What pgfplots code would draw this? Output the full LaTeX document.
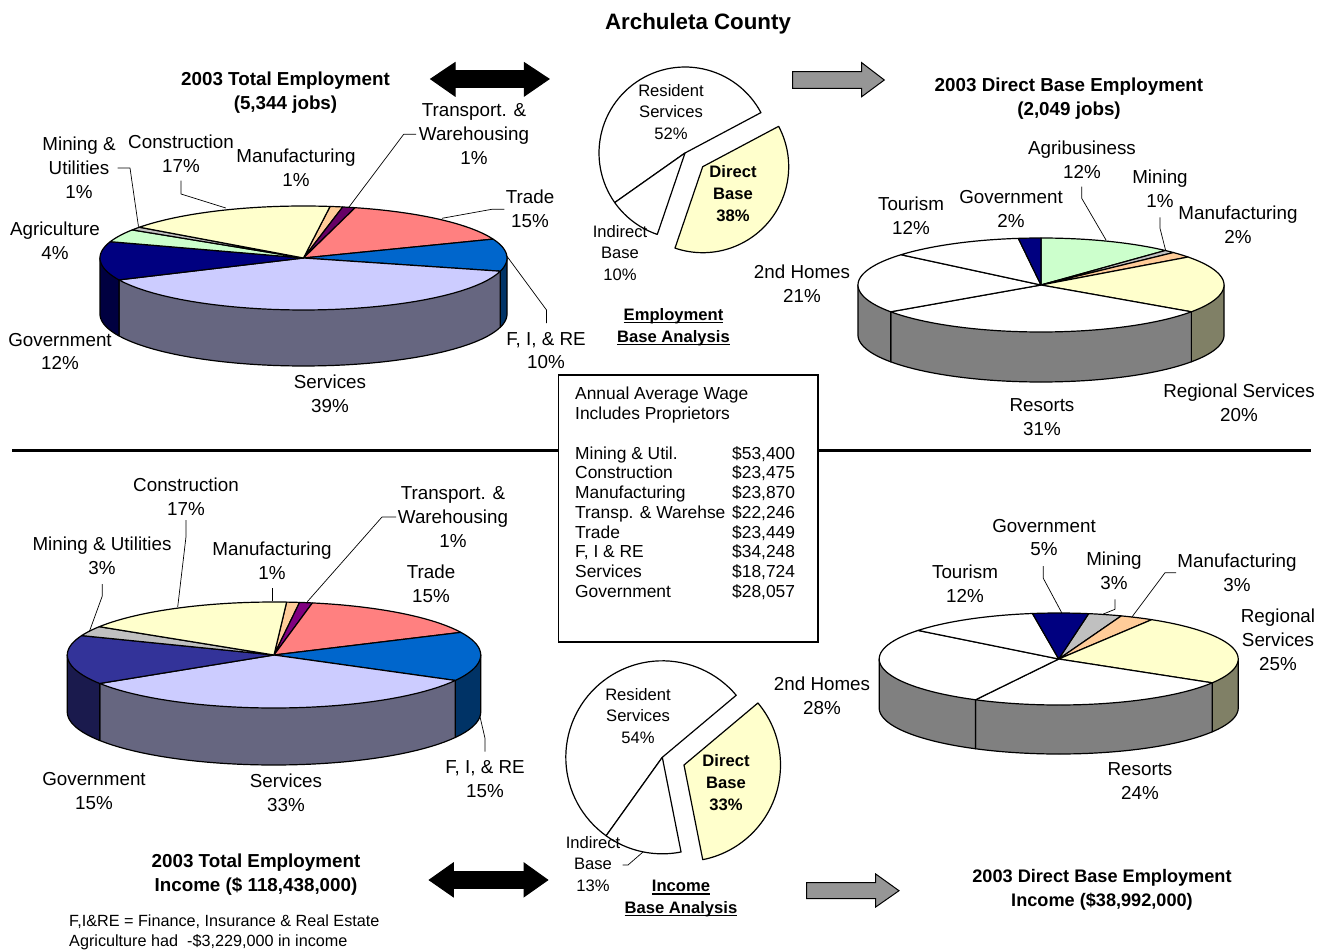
\documentclass[border=0pt]{standalone}
\usepackage{pgfplots}
\pgfplotsset{compat=1.18}
\usepackage{fontspec}
\setmainfont{Liberation Sans}

% Slice fills and the darker tone used on the rim of each 3-D pie
\definecolor{cons}{HTML}{FFFFCC}  \definecolor{consS}{HTML}{808066}
\definecolor{manu}{HTML}{FFCC99}  \definecolor{manuS}{HTML}{80664D}
\definecolor{tran}{HTML}{660066}  \definecolor{tranS}{HTML}{330033}
\definecolor{trade}{HTML}{FF8080} \definecolor{tradeS}{HTML}{804040}
\definecolor{fire}{HTML}{0066CC}  \definecolor{fireS}{HTML}{003366}
\definecolor{serv}{HTML}{CCCCFF}  \definecolor{servS}{HTML}{666680}
\definecolor{gova}{HTML}{000080}  \definecolor{govaS}{HTML}{000040}
\definecolor{govb}{HTML}{333399}  \definecolor{govbS}{HTML}{1A1A4D}
\definecolor{agri}{HTML}{CCFFCC}  \definecolor{agriS}{HTML}{668066}
\definecolor{mine}{HTML}{C0C0C0}  \definecolor{mineS}{HTML}{606060}
\definecolor{whit}{HTML}{FFFFFF}  \definecolor{whitS}{HTML}{808080}
\definecolor{tranb}{HTML}{800080} \definecolor{tranbS}{HTML}{400040}
\definecolor{arrowgrey}{HTML}{969696}

% percent / top colour / rim colour, clockwise from the start angle
\def\pieTotalEmp{1/manu/manuS, 1/tran/tranS, 15/trade/tradeS, 10/fire/fireS, 39/serv/servS, 12/gova/govaS, 4/agri/agriS, 1/mine/mineS, 17/cons/consS}
\def\pieDirectEmp{12/agri/agriS, 1/mine/mineS, 2/manu/manuS, 20/cons/consS, 31/whit/whitS, 21/whit/whitS, 12/whit/whitS, 2/gova/govaS}
\def\pieTotalInc{1/manu/manuS, 1/tranb/tranbS, 15/trade/tradeS, 15/fire/fireS, 33/serv/servS, 15/govb/govbS, 3/mine/mineS, 17/cons/consS}
\def\pieDirectInc{3/mine/mineS, 3/manu/manuS, 25/cons/consS, 24/whit/whitS, 28/whit/whitS, 12/whit/whitS, 5/gova/govaS}

% #1 cx, #2 cy, #3 rx, #4 ry, #5 rim depth, #6 start angle, #7 degrees per percent, #8 slice list
\newcommand{\drawpie}[8]{%
  \xdef\pieang{#6}%
  \foreach \pct/\topc/\sidec in #8 {%
    \pgfmathsetmacro{\aend}{\pieang+\pct*#7}%
    \pgfmathsetmacro{\wa}{max(\pieang,90)}%
    \pgfmathsetmacro{\wb}{min(\aend,270)}%
    \pgfmathparse{\wb>\wa ? 1 : 0}%
    \ifdim\pgfmathresult pt>0.5pt
      \pgfmathsetmacro{\xa}{#1+#3*sin(\wa)}%
      \pgfmathsetmacro{\ya}{#2-#4*cos(\wa)}%
      \pgfmathsetmacro{\xb}{#1+#3*sin(\wb)}%
      \pgfmathsetmacro{\yb}{#2-#4*cos(\wb)}%
      \edef\doit{\noexpand\addplot[draw=black, line width=1.2pt, line join=round,
          fill=\sidec, domain=\wa:\wb, samples=41]
        ({#1+#3*sin(x)},{#2+#5-#4*cos(x)})
        -- (axis cs:\xb,\yb) -- (axis cs:#1,#2) -- (axis cs:\xa,\ya) -- cycle;}%
      \doit
    \fi
    \xdef\pieang{\aend}%
  }%
  \xdef\pieang{#6}%
  \foreach \pct/\topc/\sidec in #8 {%
    \pgfmathsetmacro{\aend}{\pieang+\pct*#7}%
    \edef\doit{\noexpand\addplot[draw=black, line width=1.2pt, line join=round,
        fill=\topc, domain=\pieang:\aend, samples=41]
      ({#1+#3*sin(x)},{#2-#4*cos(x)}) -- (axis cs:#1,#2) -- cycle;}%
    \doit
    \xdef\pieang{\aend}%
  }%
}
% flat slice with its own apex: cx, cy, radius, start angle, percent, fill
\newcommand{\flatslice}[6]{%
  \pgfmathsetmacro{\aend}{#4+#5*3.6}%
  \edef\doit{\noexpand\addplot[draw=black, line width=1.2pt, line join=round,
      fill=#6, domain=#4:\aend, samples=61]
    ({#1+#3*sin(x)},{#2-#3*cos(x)}) -- (axis cs:#1,#2) -- cycle;}%
  \doit
}
\newcommand{\leader}[1]{\addplot[black, line width=0.7pt, line join=round] coordinates {#1};}
\newcommand{\arrowshape}[2]{\addplot[draw=black, line width=1pt, line join=miter, fill=#1] coordinates {#2} -- cycle;}

% heavier underline for the bold captions
\newcommand{\thickul}[1]{\setbox0=\hbox{#1}\rlap{\rule[-3pt]{\wd0}{1.5pt}}\box0}

\newcommand{\lab}{\fontsize{18.8}{23.8}\selectfont}
\newcommand{\sml}{\fontsize{16.6}{21.5}\selectfont}
\newcommand{\smb}{\fontsize{16.6}{22}\selectfont\bfseries}
\newcommand{\ttl}{\fontsize{18.8}{24}\selectfont\bfseries}
\newcommand{\boxf}{\fontsize{17.4}{19.6}\selectfont}
\newcommand{\lbl}[3]{\node[font=\lab, align=center, inner sep=0pt] at (axis cs:#1,#2) {#3};}
\newcommand{\mdl}[3]{\node[font=\sml, align=center, inner sep=0pt] at (axis cs:#1,#2) {#3};}
\newcommand{\mib}[3]{\node[font=\smb, align=center, inner sep=0pt] at (axis cs:#1,#2) {#3};}
\newcommand{\ttlnode}[3]{\node[font=\ttl, align=center, inner sep=0pt] at (axis cs:#1,#2) {#3};}
\newcommand{\wage}[3]{%
  \node[font=\boxf, anchor=base west, inner sep=0pt] at (axis cs:575,#1) {#2};
  \node[font=\boxf, anchor=base west, inner sep=0pt] at (axis cs:732,#1) {#3};}

\begin{document}
\begin{tikzpicture}
\path[use as bounding box] (0,0) rectangle (1327pt,950pt);
\begin{axis}[
  at={(0,0)}, anchor=south west,
  scale only axis, width=1327pt, height=950pt,
  xmin=0, xmax=1327, ymin=0, ymax=950, y dir=reverse,
  hide axis, clip=false]

% 3-D pies
\drawpie{303.5}{258}{203.5}{52}{56}{7.5}{3.6}{\pieTotalEmp}
\drawpie{1041}{285}{183}{47}{50}{0}{3.5644}{\pieDirectEmp}
\drawpie{274}{655}{206.7}{53}{57}{3.5}{3.6}{\pieTotalInc}
\drawpie{1058.7}{659}{179.5}{46}{49}{9.6}{3.6}{\pieDirectInc}

% Base analysis pies, direct base pulled out
\flatslice{685}{153}{86}{234.8}{52}{whit}
\flatslice{685}{153}{86}{198.8}{10}{whit}
\flatslice{702.7}{166.7}{86}{62}{38}{cons}
\flatslice{662.3}{757.3}{96.5}{215.6}{54}{whit}
\flatslice{662.3}{757.3}{96.5}{168.8}{13}{whit}
\flatslice{684}{765}{96.5}{50}{33}{cons}

% Divider and wage box
\addplot[black, line width=3pt] coordinates {(12,450) (1311,450)};
\addplot[draw=black, line width=1.1pt, fill=white] coordinates {(558.5,375) (818,375) (818,642) (558.5,642)} -- cycle;

% Arrows
\arrowshape{black}{(430.7,79) (455,62.7) (455,70.7) (524.3,70.7) (524.3,62.7) (549,79) (524.3,96) (524.3,87.3) (455,87.3) (455,96)}
\arrowshape{black}{(429.3,880) (453.3,863) (453.3,871.7) (524,871.7) (524,863) (547.7,880) (524,896.7) (524,888.3) (453.3,888.3) (453.3,896.7)}
\arrowshape{arrowgrey}{(792.7,71.7) (861.7,71.7) (861.7,62.7) (884.3,80) (861.7,96.7) (861.7,88.3) (792.7,88.3)}
\arrowshape{arrowgrey}{(806.7,882.7) (875.7,882.7) (875.7,874) (899,890.7) (875.7,907) (875.7,898.7) (806.7,898.7)}

% Leader lines
\leader{(117.5,168) (130,168) (138.5,226.7)}
\leader{(181,180.7) (181,194) (225.8,208)}
\leader{(416,134.3) (403.7,134.3) (349,207)}
\leader{(504.4,209.3) (491.8,209.3) (442,218.3)}
\leader{(546.5,323) (546.5,310) (506,255)}
\leader{(1081.7,186.7) (1081.7,198.3) (1106,240)}
\leader{(1160,217.3) (1160,228.3) (1165.7,250.7)}
\leader{(186,520) (186,536.7) (177.7,607)}
\leader{(102.3,584) (102.3,596) (89.3,631.7)}
\leader{(272.7,588.3) (272.7,601)}
\leader{(396,517) (382,517) (307.3,601.7)}
\leader{(485,751.7) (485,738.3) (480,716.7)}
\leader{(1043.3,566) (1043.3,578.3) (1061.7,612.7)}
\leader{(1115,599.3) (1115,609.3) (1103.3,614)}
\leader{(1176,572.7) (1165,572.7) (1131.7,617.3)}
\leader{(622.7,865) (628,865) (643,852)}

% Titles
\node[font=\fontsize{22.3}{26}\selectfont\bfseries, inner sep=0pt] at (axis cs:698,24) {Archuleta County};
\ttlnode{285.5}{93}{2003 Total Employment\\(5,344 jobs)}
\ttlnode{1069}{99}{2003 Direct Base Employment\\(2,049 jobs)}
\ttlnode{256}{875}{2003 Total Employment\\Income (\$ 118,438,000)}
\node[font=\fontsize{18.15}{24}\selectfont\bfseries, align=center, inner sep=0pt] at (axis cs:1102,890) {2003 Direct Base Employment\\Income (\$38,992,000)};

% Total employment labels
\lbl{79}{168}{Mining \&\\Utilities\\1\%}
\lbl{181}{154}{Construction\\17\%}
\lbl{296}{167.5}{Manufacturing\\1\%}
\lbl{474}{134}{Transport. \&\\Warehousing\\1\%}
\lbl{530}{209}{Trade\\15\%}
\lbl{55}{241}{Agriculture\\4\%}
\lbl{546}{350.5}{F, I, \& RE\\10\%}
\lbl{60}{351.5}{Government\\12\%}
\lbl{330}{393.5}{Services\\39\%}

% Direct base employment labels
\lbl{1082}{159.5}{Agribusiness\\12\%}
\lbl{1160}{189}{Mining\\1\%}
\lbl{1238}{225}{Manufacturing\\2\%}
\lbl{911}{215.5}{Tourism\\12\%}
\lbl{1011}{209}{Government\\2\%}
\lbl{802}{284}{2nd Homes\\21\%}
\lbl{1239}{403}{Regional Services\\20\%}
\lbl{1042}{417}{Resorts\\31\%}

% Total income labels
\lbl{186}{497}{Construction\\17\%}
\lbl{102}{556}{Mining \& Utilities\\3\%}
\lbl{272}{560.5}{Manufacturing\\1\%}
\lbl{453}{517}{Transport. \&\\Warehousing\\1\%}
\lbl{431}{584}{Trade\\15\%}
\lbl{485}{779}{F, I, \& RE\\15\%}
\lbl{94}{791}{Government\\15\%}
\lbl{286}{793}{Services\\33\%}

% Direct base income labels
\lbl{1044}{537.5}{Government\\5\%}
\lbl{1114}{571}{Mining\\3\%}
\lbl{1237}{573}{Manufacturing\\3\%}
\lbl{965}{584}{Tourism\\12\%}
\lbl{1278}{640}{Regional\\Services\\25\%}
\lbl{822}{696}{2nd Homes\\28\%}
\lbl{1140}{781}{Resorts\\24\%}

% Base analysis labels
\mdl{671}{111.7}{Resident\\Services\\52\%}
\mib{733}{193.7}{Direct\\Base\\38\%}
\mdl{620}{253}{Indirect\\Base\\10\%}
\mib{673.5}{327}{\thickul{Employment}\\\thickul{Base Analysis}}
\mdl{638}{715.7}{Resident\\Services\\54\%}
\mib{726}{782.7}{Direct\\Base\\33\%}
\mdl{593}{864}{Indirect\\Base\\13\%}
\mib{681}{898.5}{\thickul{Income}\\\thickul{Base Analysis}}

% Annual average wage table
\node[font=\boxf, anchor=base west, inner sep=0pt] at (axis cs:575,399) {Annual Average Wage};
\node[font=\boxf, anchor=base west, inner sep=0pt] at (axis cs:575,419) {Includes Proprietors};
\wage{459}{Mining \& Util.}{\$53,400}
\wage{478}{Construction}{\$23,475}
\wage{498}{Manufacturing}{\$23,870}
\wage{518}{Transp. \& Warehse}{\$22,246}
\wage{538}{Trade}{\$23,449}
\wage{557}{F, I \& RE}{\$34,248}
\wage{577}{Services}{\$18,724}
\wage{597}{Government}{\$28,057}

% Notes
\node[font=\fontsize{16.2}{20}\selectfont, anchor=base west, inner sep=0pt] at (axis cs:69,926) {F,I\&RE = Finance, Insurance \& Real Estate};
\node[font=\fontsize{16.2}{20}\selectfont, anchor=base west, inner sep=0pt] at (axis cs:69,946) {Agriculture had\ \ -\$3,229,000 in income};
\end{axis}
\end{tikzpicture}
\end{document}
